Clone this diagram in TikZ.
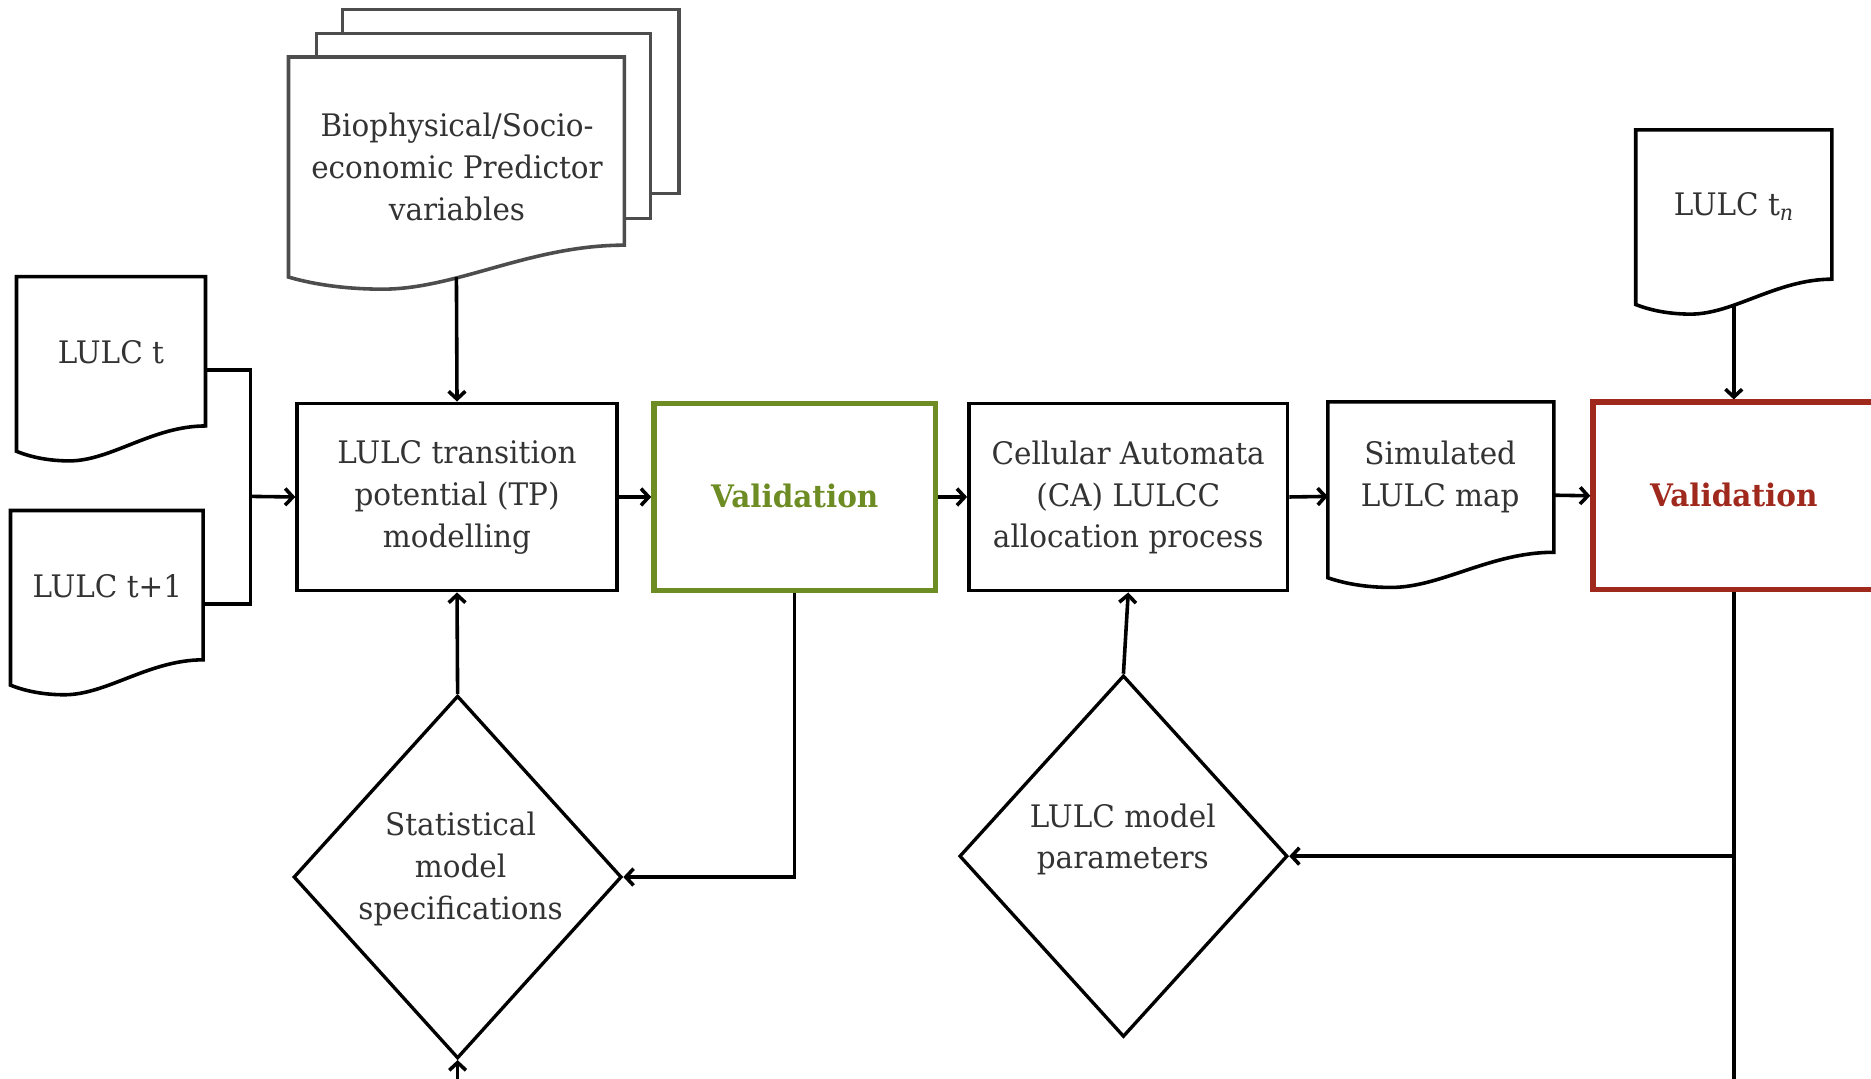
\documentclass[tikz,border=0pt]{standalone}
\usepackage{fontspec}
\setmainfont{DejaVu Serif}[FakeStretch=0.95]
\usetikzlibrary{shapes.geometric,arrows.meta,calc}
\definecolor{valgreen}{HTML}{6E8C24}
\definecolor{valred}{HTML}{A0291D}
\definecolor{txtgray}{HTML}{333333}
\definecolor{docgray}{HTML}{4D4D4D}
\tikzset{
  lbl/.style={font=\fontsize{26}{35}\selectfont, text=txtgray, align=center, inner sep=0pt},
  vlbl/.style={font=\fontsize{26}{35}\selectfont\bfseries, align=center, inner sep=0pt},
  procbox/.style={draw=black, line width=3pt, fill=white, minimum height=157pt, inner sep=0pt},
  valbox/.style={line width=4.5pt, fill=white, minimum width=236pt, minimum height=157pt, inner sep=0pt},
  docarea/.style={draw=none, minimum width=#1, inner sep=0pt},
  dia/.style={diamond, draw=black, line width=2.8pt, fill=white, minimum width=275pt, minimum height=304pt, inner sep=0pt},
  conn/.style={line width=3pt, draw=black},
  arr/.style={conn, -{Straight Barb[length=6.5pt,width=14pt,line width=3pt]}},
}
\newcommand\docoutline[2][black]{%
  \draw[line width=3pt, draw=#1, fill=white] let \p1=(#2.north west), \p2=(#2.south east),
    \n1={\x2-\x1}, \n2={\y1-\y2} in
    (\x1,\y1) -- (\x2,\y1) -- (\x2,{\y2+0.145*\n2})
    .. controls ({\x1+0.72*\n1},{\y2+0.145*\n2}) and ({\x1+0.5*\n1},{\y2-0.055*\n2}) ..
    ({\x1+0.28*\n1},{\y2-0.055*\n2})
    .. controls ({\x1+0.19*\n1},{\y2-0.055*\n2}) and ({\x1+0.09*\n1},{\y2-0.04*\n2}) ..
    (\x1,\y2) -- cycle;}
\begin{document}
\begin{tikzpicture}[x=1pt, y=-1pt]
\useasboundingbox (0,0) rectangle (1568,904);
\clip (0,0) rectangle (1568,904);
\fill[white] (0,0) rectangle (1568,904);

% stacked predictor sheets
\draw[line width=2.6pt, draw=docgray, fill=white] (287,8) rectangle (569,162);
\draw[line width=2.6pt, draw=docgray, fill=white] (265,28) rectangle (545,183);
\node[docarea=281pt, minimum height=184pt] (bio) at (382.5,140) {};
\docoutline[docgray]{bio}
\node[lbl] (biotxt) at (383,140) {Biophysical/Socio-\\economic Predictor\\variables};

% input documents
\node[docarea=158pt, minimum height=146pt] (lt) at (93,305) {};
\docoutline{lt}
\node[lbl] (lttxt) at (93,295) {LULC t};
\node[docarea=161pt, minimum height=146pt] (ltp) at (89.5,501) {};
\docoutline{ltp}
\node[lbl] (ltptxt) at (90,491) {LULC t+1};

% main process chain
\node[procbox, minimum width=268pt] (tp) at (383,416.5) {};
\node[lbl] (tptxt) at (383,417) {LULC transition\\potential (TP)\\modelling};
\node[valbox, draw=valgreen] (val1) at (666,416.5) {};
\node[vlbl, text=valgreen] (val1txt) at (666,416) {Validation};
\node[procbox, minimum width=267pt] (ca) at (945.5,416.5) {};
\node[lbl] (catxt) at (945.5,417) {Cellular Automata\\(CA) LULCC\\allocation process};
\node[docarea=189pt, minimum height=147pt] (sim) at (1207.5,410.5) {};
\docoutline{sim}
\node[lbl] (simtxt) at (1207,399.5) {Simulated\\LULC map};
\node[valbox, draw=valred] (val2) at (1453,415.5) {};
\node[vlbl, text=valred] (val2txt) at (1453,415) {Validation};
\node[docarea=164pt, minimum height=146pt] (tn) at (1453,182) {};
\docoutline{tn}
\node[lbl] (tntxt) at (1453,173) {LULC t\textsubscript{\textit{n}}};

% diamonds
\node[dia] (stat) at (383.5,735) {};
\node[lbl] (stattxt) at (386,728) {Statistical\\model\\specifications};
\node[dia, minimum height=303pt] (par) at (941.5,717.5) {};
\node[lbl] (partxt) at (941,703.5) {LULC model\\parameters};

\coordinate (join) at (210,416);
\coordinate (loop) at (1453,940);

% connectors
\draw[conn] ([yshift=-5pt]lt.east) -| (join);
\draw[conn] ([yshift=-5pt]ltp.east) -| (join);
\draw[arr] (join) -- (tp.west);
\draw[arr] (bio.south) -- (tp.north);
\draw[arr] (tp.east) -- (val1.west);
\draw[arr] (val1.east) -- (ca.west);
\draw[arr] (ca.east) -- ([yshift=-5.5pt]sim.west);
\draw[arr] ([yshift=-4.5pt]sim.east) -- (val2.west);
\draw[arr] (tn.south) -- (val2.north);
\draw[arr] (val1.south) |- (stat.east);
\draw[arr] (val2.south) |- (par.east);
\draw[arr] (val2.south) -- (loop) -| (stat.south);
\draw[arr] (stat.north) -- (tp.south);
\draw[arr] (par.north) -- (ca.south);
\end{tikzpicture}
\end{document}
